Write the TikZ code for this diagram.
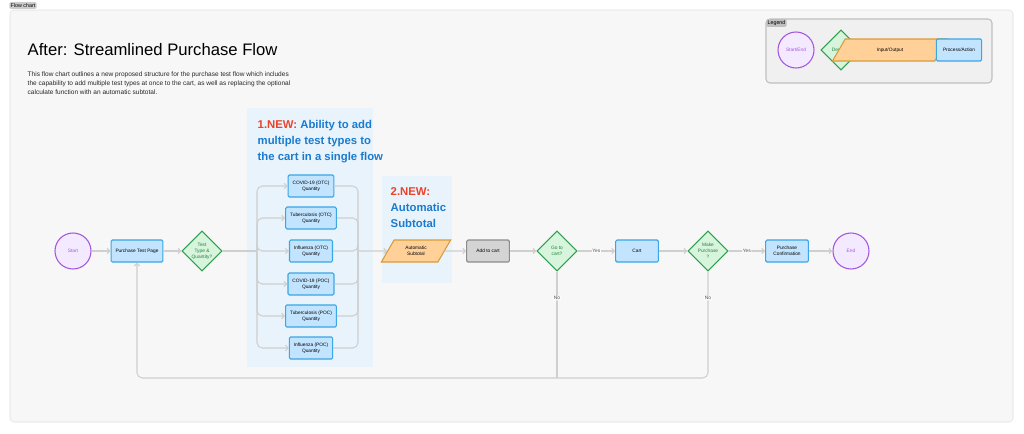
\documentclass[tikz,border=0pt]{standalone}
\usepackage{fontspec}
\setmainfont{Liberation Sans}
\usetikzlibrary{shapes.geometric,arrows.meta}
\definecolor{pblue}{HTML}{C2E4FF}
\definecolor{pblueline}{HTML}{3AA6E6}
\definecolor{pgreen}{HTML}{D6F5DC}
\definecolor{pgreenline}{HTML}{2E9E4F}
\definecolor{ppurple}{HTML}{F4EAFF}
\definecolor{ppurpleline}{HTML}{A356E0}
\definecolor{porange}{HTML}{FFD199}
\definecolor{porangeline}{HTML}{D99A3A}
\definecolor{panel}{HTML}{E8F3FC}
\definecolor{conn}{HTML}{CFCFCF}
\definecolor{newred}{HTML}{E8432B}
\definecolor{newblue}{HTML}{1A7BCF}
\tikzset{
  every node/.style={font=\fontsize{3.6}{4.4}\selectfont, align=center},
  terminal/.style={draw=ppurpleline, fill=ppurple, circle, thick, minimum size=27pt, text=ppurpleline},
  decision/.style={draw=pgreenline, fill=pgreen, diamond, thick, minimum size=30pt, inner sep=0pt, text=pgreenline!80!black},
  process/.style={draw=pblueline, fill=pblue, rounded corners=1pt, thick, minimum width=32pt, minimum height=16.5pt},
  inout/.style={draw=porangeline, fill=porange, trapezium, trapezium left angle=60, trapezium right angle=120, thick, minimum width=36pt, minimum height=16.5pt, inner sep=1pt},
  link/.style={draw=conn, thick, rounded corners=4pt, -{Straight Barb[length=2pt,width=4pt]}},
  plain/.style={draw=conn, thick, rounded corners=4pt},
  label/.style={fill=white, inner sep=0.5pt, text=black!70},
  headline/.style={font=\fontsize{8.5}{11}\selectfont\bfseries, align=left, anchor=west}
}
\begin{document}
\begin{tikzpicture}[x=0.75pt,y=-0.75pt]
\useasboundingbox (0,0) rectangle (1024,433);
% canvas
\path[fill=white] (0,0) rectangle (1024,433);
\path[draw=black!12, fill=black!3, rounded corners=3pt] (10,10) rectangle (1013,422);
\node[fill=black!20, rounded corners=1pt, inner sep=1pt, font=\fontsize{4}{5}\selectfont] (tag) at (23,5.5) {Flow chart};
\node[anchor=west, font=\fontsize{12.5}{15}\selectfont] (title) at (23,50) {After: Streamlined Purchase Flow};
\node[anchor=north west, align=left, font=\fontsize{4.9}{6.8}\selectfont, text=black!85] (intro) at (23,67)
  {This flow chart outlines a new proposed structure for the purchase test flow which includes\\
   the capability to add multiple test types at once to the cart, as well as replacing the optional\\
   calculate function with an automatic subtotal.};

% legend
\path[draw=black!25, fill=black!6, rounded corners=3pt, thick] (766,19) rectangle (992,83);
\node[fill=black!25, rounded corners=1pt, inner sep=1pt, font=\fontsize{4}{5}\selectfont] (legtag) at (776.5,23) {Legend};
\node[terminal] (lstart) at (796,50) {Start/End};
\node[decision] (ldec) at (841,50) {Decision};
\node[inout] (lio) at (890,50) {Input/Output};
\node[process, minimum width=34pt] (lproc) at (959,50) {Process/Action};

% highlight panels
\path[fill=panel] (247,108) rectangle (373,367);
\path[fill=panel] (382,176) rectangle (452,283);
\node[headline] (new1) at (253,142) {\textcolor{newred}{1.NEW:} \textcolor{newblue}{Ability to add}\\[1pt]\textcolor{newblue}{multiple test types to}\\[1pt]\textcolor{newblue}{the cart in a single flow}};
\node[headline] (new2) at (386,208) {\textcolor{newred}{2.NEW:}\\[1pt]\textcolor{newblue}{Automatic}\\[1pt]\textcolor{newblue}{Subtotal}};

% main row
\node[terminal] (start) at (73,251) {Start};
\node[process] (page) at (137,251) {Purchase Test Page};
\node[decision] (type) at (202,251) {Test\\Type \&\\Quantity?};
\node[process] (q1) at (311,186) {COVID-19 (OTC)\\Quantity};
\node[process] (q2) at (311,218) {Tuberculosis (OTC)\\Quantity};
\node[process] (q3) at (311,251) {Influenza (OTC)\\Quantity};
\node[process] (q4) at (311,284) {COVID-19 (POC)\\Quantity};
\node[process] (q5) at (311,316) {Tuberculosis (POC)\\Quantity};
\node[process] (q6) at (311,348) {Influenza (POC)\\Quantity};
\node[inout] (sub) at (416,251) {Automatic\\Subtotal};
\node[process, draw=black!45, fill=black!17] (add) at (488,251) {Add to cart};
\node[decision] (gocart) at (557,251) {Go to\\cart?};
\node[process] (cart) at (637,251) {Cart};
\node[decision] (buy) at (708,251) {Make\\Purchase\\?};
\node[process] (confirm) at (787,251) {Purchase\\Confirmation};
\node[terminal] (end) at (851,251) {End};
\coordinate (split) at (257,251);
\coordinate (merge) at (358,251);
\coordinate (loop) at (137,378);

\path[link] (start) -- (page);
\path[link] (page) -- (type);
\path[plain] (type) -- (split);
\foreach \q in {q1,q2,q3,q4,q5,q6}{
  \path[link] (split) |- (\q.west);
  \path[plain] (\q.east) -| (merge);
}
\path[link] (merge) -- (sub);
\path[link] (sub) -- (add);
\path[link] (add) -- (gocart);
\path[link] (gocart) -- node[label] {Yes} (cart);
\path[link] (cart) -- (buy);
\path[link] (buy) -- node[label] {Yes} (confirm);
\path[link] (confirm) -- (end);
\path[plain] (gocart.south) -- node[label, pos=0.25] {No} (gocart.south |- loop);
\path[link] (buy.south) -- node[label, pos=0.25] {No} (buy.south |- loop) -- (loop) -- (page.south);
\end{tikzpicture}
\end{document}
